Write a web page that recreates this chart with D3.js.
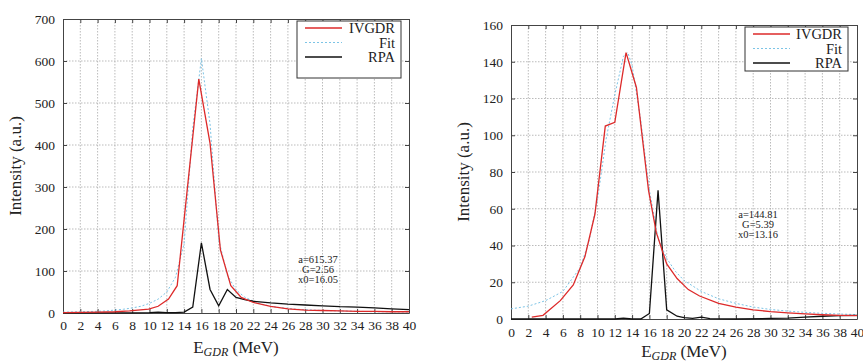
<!DOCTYPE html>
<html>
<head>
<meta charset="utf-8">
<script src="https://d3js.org/d3.v7.min.js"></script>
<style>
  body { margin: 0; background: #fff; }
  svg text { font-family: "Liberation Serif", "DejaVu Serif", serif; fill: #222; }
</style>
</head>
<body>
<svg id="chart" width="863" height="363"></svg>
<script>
// ---- data ----
// left panel
var leftIvgdr = [[0,1],[2,1.5],[4,2],[6,3],[7.7,5],[9.9,9],[11,16],[12.2,33],[13.2,65],[15.7,557],[17,404],[18.2,150],[19.4,65],[20.6,37],[22,25],[24,16],[26,10],[28,7],[30,6],[32,5],[34,4],[36,4],[38,3],[40,3]];
var leftFit = [[0,2],[2,3],[4,4],[5,5],[6,7],[7,9],[8,12],[9,16],[10,23],[11,33],[12,50],[13,85],[14,165],[15,440],[16,606],[17,450],[18,175],[19,90],[20,55],[21,38],[22,28],[23,21],[24,16],[25,13],[26,11],[27,9],[28,8],[29,7],[30,6],[32,5],[34,4],[36,3],[38,3],[40,2]];
var leftRpa = [[0,0.5],[2,0.5],[4,0.5],[6,0.5],[8,0.5],[10,1],[11,2],[12,1],[13,1],[14,2],[15,14],[16,167],[17,56],[18,17],[19,56],[20,37],[21,32],[22,28],[24,24],[26,21],[28,19],[30,17],[32,15],[34,14],[36,12],[38,10],[40,8]];
var leftParams = ["a=615.37", "G=2.56", "x0=16.05"];

// right panel
var rightIvgdr = [[2.4,1],[3.7,2],[5.7,10],[7.2,18.5],[8.55,34],[9.7,57],[10.9,105],[12,107],[13.3,145],[14.5,126],[15.9,70],[16.8,47],[18,30],[19.2,22],[20.5,16],[21.8,12.5],[24,8.5],[26,6.5],[28,5],[30,4],[32,3.3],[34,2.8],[36,2.3],[38,2],[40,1.8]];
var rightFit = [[0,5.5],[2,7],[4,10],[6,15],[8,28],[9,42],[10,65],[11,98],[12,122],[13,143],[13.5,145],[14,138],[15,108],[16,70],[17,44],[18,33],[19,26],[20,21],[22,15],[24,11],[26,8.5],[28,6.5],[30,5.2],[32,4.3],[34,3.6],[36,3.1],[38,2.7],[40,2.4]];
var rightRpa = [[0,0],[4,0],[8,0],[12,0],[13,0.5],[14,0],[15,0],[16,3],[17,70],[18,5],[19.2,1.5],[20,0.7],[21,0.3],[22,1],[23,0.2],[26,0],[30,0.3],[32,0.5],[34,1],[36,1.5],[38,1.8],[40,2]];
var rightParams = ["a=144.81", "G=5.39", "x0=13.16"];

var legendNames = ["IVGDR", "Fit", "RPA"];
var xTicks = d3.range(0, 41, 2);
var FONT = '"Liberation Serif", "DejaVu Serif", serif';

var svg = d3.select('#chart');

function drawPanel(opt) {
  var x = d3.scaleLinear().domain([0, 40]).range([opt.left, opt.right]);
  var y = d3.scaleLinear().domain([0, opt.ymax]).range([opt.bottom, opt.top]);
  var g = svg.append('g');
  var yTicks = d3.range(0, opt.ymax + 1, opt.ystep);

  // grid
  g.append('g').selectAll('line').data(xTicks.slice(1, -1)).enter().append('line')
    .attr('x1', function(d) { return x(d); }).attr('x2', function(d) { return x(d); })
    .attr('y1', opt.top).attr('y2', opt.bottom)
    .attr('stroke', '#aaa').attr('stroke-width', 0.8).attr('stroke-dasharray', '1.5,1.5');
  g.append('g').selectAll('line').data(yTicks.slice(1, -1)).enter().append('line')
    .attr('y1', function(d) { return y(d); }).attr('y2', function(d) { return y(d); })
    .attr('x1', opt.left).attr('x2', opt.right)
    .attr('stroke', '#aaa').attr('stroke-width', 0.8).attr('stroke-dasharray', '1.5,1.5');

  // axes
  var bottomAx = g.append('g').attr('transform', 'translate(0,' + opt.bottom + ')')
    .call(d3.axisBottom(x).tickValues(xTicks).tickSizeInner(-4).tickSizeOuter(0).tickPadding(opt.xpad));
  var leftAx = g.append('g').attr('transform', 'translate(' + opt.left + ',0)')
    .call(d3.axisLeft(y).tickValues(yTicks).tickSizeInner(-4).tickSizeOuter(0).tickPadding(8));
  g.append('g').attr('transform', 'translate(0,' + opt.top + ')')
    .call(d3.axisTop(x).tickValues(xTicks).tickSizeInner(-4).tickSizeOuter(0).tickFormat(''));
  g.append('g').attr('transform', 'translate(' + opt.right + ',0)')
    .call(d3.axisRight(y).tickValues(yTicks).tickSizeInner(-4).tickSizeOuter(0).tickFormat(''));
  g.selectAll('.domain').attr('stroke', '#444');
  g.selectAll('.tick line').attr('stroke', '#444');
  [bottomAx, leftAx].forEach(function(ax) {
    ax.attr('font-family', FONT).attr('font-size', 13.5);
    ax.selectAll('text').attr('fill', '#222');
  });

  // series
  var line = d3.line().x(function(d) { return x(d[0]); }).y(function(d) { return y(d[1]); });
  g.append('path').datum(opt.fit).attr('d', line).attr('fill', 'none')
    .attr('stroke', '#7cc4e6').attr('stroke-width', 1).attr('stroke-dasharray', '2,2');
  g.append('path').datum(opt.rpa).attr('d', line).attr('fill', 'none')
    .attr('stroke', '#111').attr('stroke-width', 1.3);
  g.append('path').datum(opt.ivgdr).attr('d', line).attr('fill', 'none')
    .attr('stroke', '#dd2a2a').attr('stroke-width', 1.3);

  // legend
  var lg = g.append('g').attr('transform', 'translate(' + opt.legX + ',' + opt.legY + ')');
  lg.append('rect').attr('width', opt.legW).attr('height', opt.legH)
    .attr('fill', '#fff').attr('stroke', '#333').attr('stroke-width', 1);
  var styles = [
    { color: '#dd2a2a', dash: null, w: 1.3 },
    { color: '#7cc4e6', dash: '2,2', w: 1 },
    { color: '#111', dash: null, w: 1.3 }
  ];
  legendNames.forEach(function(name, i) {
    var cy = 7 + i * 14.5;
    lg.append('line').attr('x1', 8).attr('x2', 45).attr('y1', cy).attr('y2', cy)
      .attr('stroke', styles[i].color).attr('stroke-width', styles[i].w)
      .attr('stroke-dasharray', styles[i].dash);
    lg.append('text').attr('x', opt.legW - 6).attr('y', cy).attr('dy', '0.35em')
      .attr('text-anchor', 'end').attr('font-size', 14.5).text(name);
  });

  // fit parameters
  g.append('g').selectAll('text').data(opt.params).enter().append('text')
    .attr('x', opt.parX).attr('y', function(d, i) { return opt.parY + i * 10; })
    .attr('dy', '0.35em').attr('text-anchor', 'middle').attr('font-size', 10.5)
    .text(function(d) { return d; });

  // axis titles
  var xt = g.append('text').attr('x', (opt.left + opt.right) / 2).attr('y', opt.xTitleY)
    .attr('text-anchor', 'middle').attr('font-size', 17);
  xt.append('tspan').text('E');
  xt.append('tspan').attr('font-size', 12).attr('font-style', 'italic').attr('dy', 2.5).text('GDR');
  xt.append('tspan').attr('dy', -2.5).text(' (MeV)');

  g.append('text').attr('transform', 'translate(' + opt.yTitleX + ',' + (opt.top + opt.bottom) / 2 + ') rotate(-90)')
    .attr('text-anchor', 'middle').attr('dy', '0.35em').attr('font-size', 17)
    .text('Intensity (a.u.)');
}

drawPanel({
  left: 63, right: 409, top: 19, bottom: 313, ymax: 700, ystep: 100, xpad: 7,
  ivgdr: leftIvgdr, fit: leftFit, rpa: leftRpa, params: leftParams,
  legX: 297, legY: 21, legW: 104, legH: 57,
  parX: 318, parY: 259, xTitleY: 353, yTitleX: 15
});

drawPanel({
  left: 511, right: 857, top: 25, bottom: 319, ymax: 160, ystep: 20, xpad: 8,
  ivgdr: rightIvgdr, fit: rightFit, rpa: rightRpa, params: rightParams,
  legX: 745, legY: 27, legW: 103, legH: 44,
  parX: 758, parY: 214, xTitleY: 357, yTitleX: 463
});
</script>
</body>
</html>
